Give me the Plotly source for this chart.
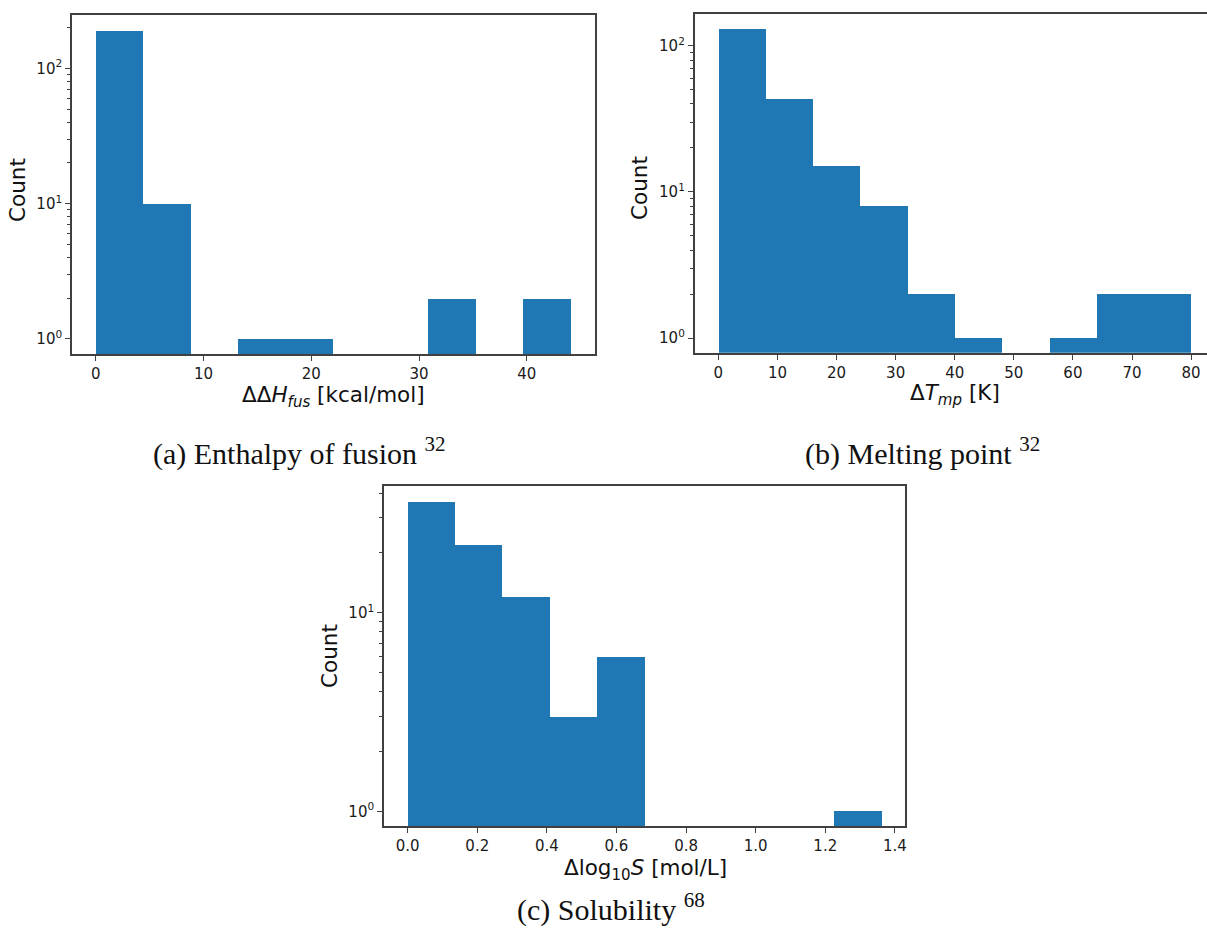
import plotly.graph_objects as go

# ---------------- data ----------------
# (a) Enthalpy of fusion
a_edges = [0.0, 4.41, 8.82, 13.23, 17.64, 22.05, 26.46, 30.87, 35.28, 39.69, 44.1]
a_counts = [191, 10, 0, 1, 1, 0, 0, 2, 0, 2]
# (b) Melting point
b_edges = [0, 8, 16, 24, 32, 40, 48, 56, 64, 72, 80]
b_counts = [130, 43, 15, 8, 2, 1, 0, 1, 2, 2]
# (c) Solubility
c_edges = [0.0, 0.136, 0.272, 0.409, 0.545, 0.681, 0.817, 0.953, 1.09, 1.226, 1.362]
c_counts = [36, 22, 12, 3, 6, 0, 0, 0, 0, 1]

a_ticks = [0, 10, 20, 30, 40]
b_ticks = [0, 10, 20, 30, 40, 50, 60, 70, 80]
c_ticks = [0.0, 0.2, 0.4, 0.6, 0.8, 1.0, 1.2, 1.4]

W, H = 1207, 940
BLUE = "#1f77b4"
LINE = "#404040"
TXT = "#1a1a1a"
SANS = "DejaVu Sans"
SERIF = "Liberation Serif"


def bars(edges, counts, xa, ya):
    xs = [(edges[i] + edges[i + 1]) / 2 for i in range(len(counts))]
    ws = [edges[i + 1] - edges[i] for i in range(len(counts))]
    ys = [c if c > 0 else None for c in counts]
    return go.Bar(x=xs, y=ys, width=ws, marker=dict(color=BLUE, line=dict(width=0)),
                  xaxis=xa, yaxis=ya, showlegend=False, hoverinfo="x+y")


fig = go.Figure()
fig.add_trace(bars(a_edges, a_counts, "x", "y"))
fig.add_trace(bars(b_edges, b_counts, "x2", "y2"))
fig.add_trace(bars(c_edges, c_counts, "x3", "y3"))


def xax(domain, rng, ticks, anchor, fmt=None, mirror=True):
    d = dict(domain=domain, range=rng, tickmode="array", tickvals=ticks,
             ticks="outside", ticklen=5, tickwidth=1.3, tickcolor=LINE,
             showline=True, linecolor=LINE, linewidth=1.7, mirror=mirror,
             showgrid=False, zeroline=False, anchor=anchor,
             tickfont=dict(family=SANS, size=15, color=TXT))
    if fmt:
        d["ticktext"] = [fmt.format(t) for t in ticks]
    return d


def yax(domain, rng, anchor, minor_vals, major_vals, mirror=True):
    return dict(domain=domain, type="log", range=rng, tickmode="array",
                tickvals=major_vals,
                ticktext=["10<sup>%d</sup>" % i for i in range(len(major_vals))],
                ticks="outside", ticklen=5, tickwidth=1.3, tickcolor=LINE,
                minor=dict(tickmode="array", tickvals=minor_vals, ticks="outside",
                           ticklen=3, tickwidth=1, tickcolor=LINE, showgrid=False),
                showline=True, linecolor=LINE, linewidth=1.7, mirror=mirror,
                showgrid=False, zeroline=False, anchor=anchor,
                tickfont=dict(family=SANS, size=15, color=TXT))


minor_a = [2, 3, 4, 5, 6, 7, 8, 9, 20, 30, 40, 50, 60, 70, 80, 90, 200]
minor_b = [2, 3, 4, 5, 6, 7, 8, 9, 20, 30, 40, 50, 60, 70, 80, 90]
minor_c = [2, 3, 4, 5, 6, 7, 8, 9, 20, 30, 40]

fig.update_layout(
    width=W, height=H, margin=dict(l=0, r=0, t=0, b=0),
    paper_bgcolor="white", plot_bgcolor="white", bargap=0,
    xaxis=xax([72 / W, 594.7 / W], [-2.2, 46.3], a_ticks, "y"),
    yaxis=yax([1 - 354 / H, 1 - 14.5 / H], [-0.112, 2.398], "x", minor_a, [1, 10, 100]),
    xaxis2=xax([694.7 / W, 1.0], [-4, 82.69], b_ticks, "y2"),
    yaxis2=yax([1 - 352.7 / H, 1 - 14 / H], [-0.1006, 2.218], "x2", minor_b, [1, 10, 100],
               mirror=False),
    xaxis3=xax([384 / W, 905.3 / W], [-0.068, 1.430], c_ticks, "y3", fmt="{:.1f}"),
    yaxis3=yax([1 - 826.3 / H, 1 - 486 / H], [-0.0755, 1.638], "x3", minor_c, [1, 10]),
)

anns = []


def ann(text, x, y, size, family, angle=0):
    anns.append(dict(text=text, x=x / W, y=1 - y / H, xref="paper", yref="paper",
                     xanchor="center", yanchor="middle", showarrow=False,
                     textangle=angle, font=dict(family=family, size=size, color="#111111")))


# axis titles
ann("ΔΔ<i>H</i><sub><i>fus</i></sub> [kcal/mol]", 333, 396, 21.5, SANS)
ann("Δ<i>T</i><sub><i>mp</i></sub> [K]", 955, 394, 21.5, SANS)
ann("Δlog<sub>10</sub><i>S</i> [mol/L]", 645, 869, 21.5, SANS)
ann("Count", 17, 190, 21.5, SANS, -90)
ann("Count", 640, 188, 21.5, SANS, -90)
ann("Count", 329, 656, 21.5, SANS, -90)
# captions
ann("(a) Enthalpy of fusion <sup>32</sup>", 299, 451, 30, SERIF)
ann("(b) Melting point <sup>32</sup>", 922, 451, 30, SERIF)
ann("(c) Solubility <sup>68</sup>", 611, 907, 30, SERIF)
fig.update_layout(annotations=anns)

fig.write_html("out.html")
